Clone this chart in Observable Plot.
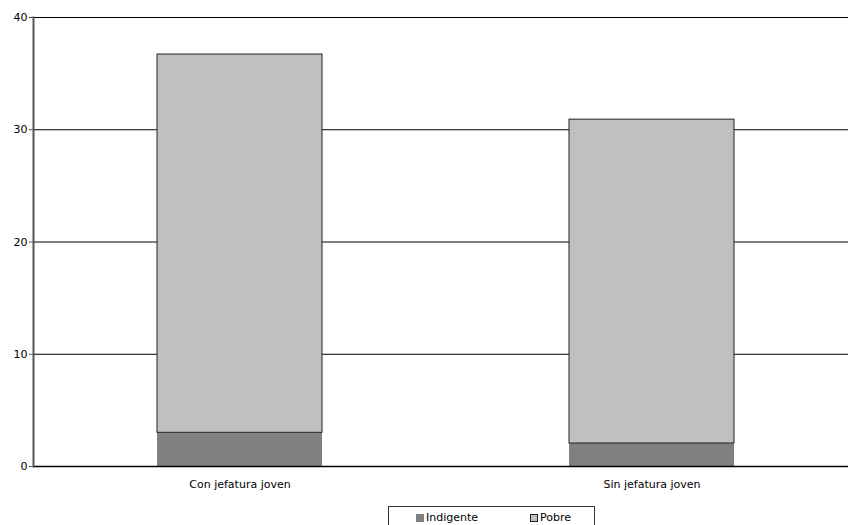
<!DOCTYPE html>
<html>
<head>
<meta charset="utf-8">
<script src="https://cdn.jsdelivr.net/npm/d3@7"></script>
<script src="https://cdn.jsdelivr.net/npm/@observablehq/plot@0.6"></script>
<style>
  body { margin: 0; background: #fff; font-family: "DejaVu Sans", Verdana, sans-serif; }
  #wrap { position: relative; width: 848px; height: 525px; overflow: hidden; }
  #legend { position: absolute; left: 388px; top: 506px; width: 207px; height: 30px; border: 1px solid #333; box-sizing: border-box; font-size: 11px; color: #000; }
  .item { position: absolute; top: 4px; display: flex; align-items: center; }
  .sw { width: 8px; height: 8px; margin-right: 2px; box-sizing: border-box; }
</style>
</head>
<body>
<div id="wrap"></div>
<script>
const categories = ["Con jefatura joven", "Sin jefatura joven"];
const series = ["Indigente", "Pobre"];
const indigente = [3.0, 2.05];
const pobre = [33.7, 28.85];
const yTicks = [0, 10, 20, 30, 40];
const colors = { "Indigente": "#808080", "Pobre": "#c0c0c0" };

const rows = [];
categories.forEach((c, i) => {
  rows.push({ cat: c, serie: "Indigente", value: indigente[i] });
  rows.push({ cat: c, serie: "Pobre", value: pobre[i] });
});

const chart = Plot.plot({
  width: 848,
  height: 506,
  marginTop: 17,
  marginBottom: 40,
  marginLeft: 33,
  marginRight: 0,
  style: { fontFamily: "DejaVu Sans, Verdana, sans-serif", fontSize: "11px", color: "#000", background: "#fff" },
  x: { domain: categories, range: [33, 857], paddingInner: 0.6, paddingOuter: 0.3, label: null },
  y: { domain: [0, 40], label: null },
  color: { domain: series, range: series.map(s => colors[s]) },
  opacity: { type: "identity" },
  marks: [
    Plot.ruleY(yTicks.filter(d => d > 0), { stroke: "#000", strokeWidth: 1 }),
    Plot.barY(rows, Plot.stackY({ x: "cat", y: "value", fill: "serie", z: "serie", order: series,
      stroke: "#222", strokeWidth: 1, strokeOpacity: d => d.serie === "Pobre" ? 1 : 0 })),
    Plot.ruleY([0], { stroke: "#000", strokeWidth: 1.5 }),
    Plot.frame({ anchor: "left", stroke: "#555", strokeWidth: 2 }),
    Plot.axisY({ ticks: yTicks, tickSize: 4, tickPadding: 2, tickFormat: d => String(d), stroke: "#555" }),
    Plot.axisX({ tickSize: 0, tickPadding: 14 })
  ]
});
document.getElementById("wrap").appendChild(chart);

const legend = document.createElement("div");
legend.id = "legend";
const pos = { "Indigente": 27, "Pobre": 141 };
series.forEach(s => {
  const it = document.createElement("div");
  it.className = "item";
  it.style.left = pos[s] + "px";
  const sw = document.createElement("div");
  sw.className = "sw";
  sw.style.background = colors[s];
  if (s === "Pobre") sw.style.border = "1px solid #222";
  const t = document.createElement("span");
  t.textContent = s;
  it.appendChild(sw); it.appendChild(t);
  legend.appendChild(it);
});
document.getElementById("wrap").appendChild(legend);
</script>
</body>
</html>
